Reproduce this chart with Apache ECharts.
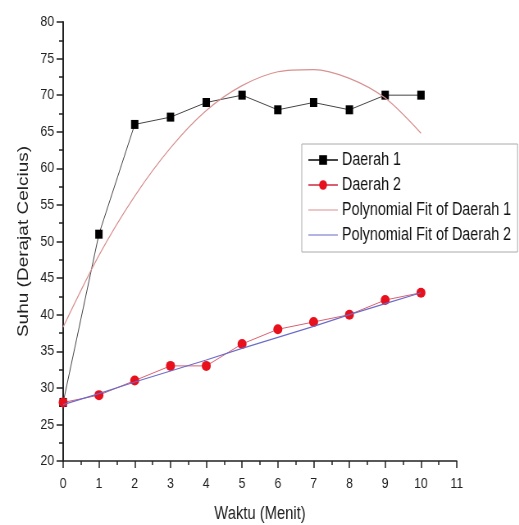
<!DOCTYPE html>
<html>
<head>
<meta charset="utf-8">
<script src="https://cdn.jsdelivr.net/npm/echarts@6/dist/echarts.min.js"></script>
<style>
  html, body { margin: 0; padding: 0; background: #fff; overflow: hidden; }
  /* gambar asli tampak dipadatkan mendatar, jadi kanvas dilebarkan lalu diskala */
  #chart { transform: scaleX(0.82); transform-origin: 0 0; }
</style>
</head>
<body>
<div id="chart" style="width: 633px;height:525px;"></div>
<script>
  // waktu (menit)
  const waktu = [0, 1, 2, 3, 4, 5, 6, 7, 8, 9, 10];
  // suhu per daerah
  const daerah1 = [28, 51, 66, 67, 69, 70, 68, 69, 68, 70, 70];
  const daerah2 = [28, 29, 31, 33, 33, 36, 38, 39, 40, 42, 43];
  // kurva fit yang dibaca dari gambar
  const fit1 = [38.3, 48.1, 56.2, 62.8, 67.9, 71.3, 73.2, 73.5, 72.3, 69.6, 64.8];
  const fit2 = [27.7, 29.2, 30.8, 32.3, 33.8, 35.4, 36.9, 38.4, 40.0, 41.5, 43.0];

  const font = '"Liberation Sans", Arial, sans-serif';
  const lineIcon = 'path://M0,0L40,0L40,1L0,1Z';

  function pairs(ys) {
    return waktu.map((x, i) => [x, ys[i]]);
  }

  let myChart = echarts.init(document.getElementById('chart'));
  let option = {
    animation: false,
    textStyle: { fontFamily: font },
    grid: {
      left: 77,
      top: 22,
      right: 76,
      bottom: 64,
      containLabel: false,
      outerBoundsMode: 'none'
    },
    legend: {
      orient: 'vertical',
      left: 368,
      top: 144,
      width: 262,
      padding: [7, 8, 8, 7],
      itemGap: 7,
      itemWidth: 36,
      itemHeight: 12,
      borderColor: '#aaa',
      borderWidth: 1,
      textStyle: { fontFamily: font, fontSize: 17.5, lineHeight: 18, color: '#111' },
      data: [
        { name: 'Daerah 1' },
        { name: 'Daerah 2' },
        { name: 'Polynomial Fit of Daerah 1', icon: lineIcon },
        { name: 'Polynomial Fit of Daerah 2', icon: lineIcon }
      ]
    },
    xAxis: {
      type: 'value',
      min: 0,
      max: 11,
      interval: 1,
      name: 'Waktu (Menit)',
      nameLocation: 'middle',
      nameGap: 44,
      nameTextStyle: { fontFamily: font, fontSize: 18, color: '#222' },
      axisLine: { lineStyle: { color: '#222', width: 1.5 } },
      axisTick: { inside: false, length: 7, lineStyle: { color: '#222', width: 1.5 } },
      minorTick: { show: true, splitNumber: 2, length: 4, lineStyle: { color: '#222', width: 1.5 } },
      axisLabel: { fontFamily: font, fontSize: 15, color: '#222', margin: 15 },
      splitLine: { show: false }
    },
    yAxis: {
      type: 'value',
      min: 20,
      max: 80,
      interval: 5,
      name: 'Suhu (Derajat Celcius)',
      nameLocation: 'middle',
      nameGap: 29,
      nameTextStyle: { fontFamily: font, fontSize: 19, color: '#222' },
      axisLine: { show: true, lineStyle: { color: '#222', width: 2 } },
      axisTick: { show: true, inside: false, length: 8, lineStyle: { color: '#222', width: 1.5 } },
      minorTick: { show: true, splitNumber: 2, length: 5, lineStyle: { color: '#222', width: 1.5 } },
      axisLabel: { fontFamily: font, fontSize: 15, color: '#222', margin: 11 },
      splitLine: { show: false }
    },
    series: [
      {
        name: 'Daerah 1',
        type: 'line',
        data: pairs(daerah1),
        symbol: 'rect',
        symbolSize: [9, 9],
        itemStyle: { color: '#000' },
        lineStyle: { color: '#444', width: 1 },
        z: 3
      },
      {
        name: 'Daerah 2',
        type: 'line',
        data: pairs(daerah2),
        symbol: 'circle',
        symbolSize: [11, 10],
        itemStyle: { color: '#e8101c' },
        lineStyle: { color: '#d86070', width: 1 },
        z: 3
      },
      {
        name: 'Polynomial Fit of Daerah 1',
        type: 'line',
        data: pairs(fit1),
        smooth: 0.3,
        showSymbol: false,
        symbol: 'none',
        itemStyle: { color: '#d89090' },
        lineStyle: { color: '#d89090', width: 1.2 },
        z: 4
      },
      {
        name: 'Polynomial Fit of Daerah 2',
        type: 'line',
        data: pairs(fit2),
        showSymbol: false,
        symbol: 'none',
        itemStyle: { color: '#6a6ac8' },
        lineStyle: { color: '#6a6ac8', width: 1.2 },
        z: 4
      }
    ]
  };
  myChart.setOption(option);
</script>
</body>
</html>
